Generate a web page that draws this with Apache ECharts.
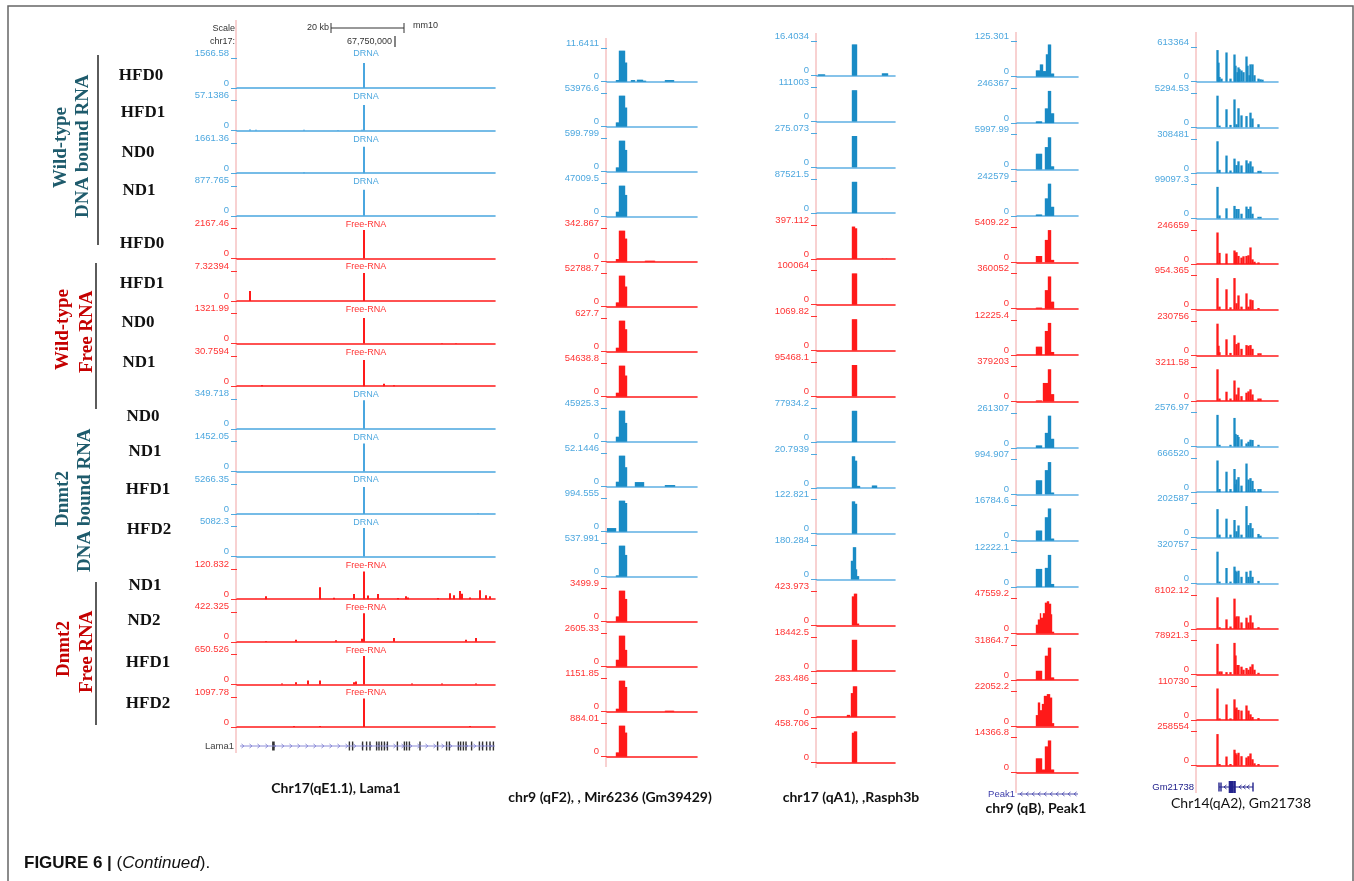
<!DOCTYPE html>
<html><head><meta charset="utf-8">
<script src="https://cdn.jsdelivr.net/npm/echarts@6/dist/echarts.min.js"></script>
<style>html,body{margin:0;padding:0;background:#fff}#c{width:1354px;height:881px}</style>
</head><body><div id="c"></div>
<script>
// ---------------- DATA ----------------
const rowLabels = ['HFD0','HFD1','ND0','ND1','HFD0','HFD1','ND0','ND1','ND0','ND1','HFD1','HFD2','ND1','ND2','HFD1','HFD2'];
const rowType   = ['D','D','D','D','F','F','F','F','D','D','D','D','F','F','F','F']; // D = DRNA, F = Free-RNA
const trackNames = {D:'DRNA', F:'Free-RNA'};
const columnTitles = ['Chr17(qE1.1), Lama1','chr9 (qF2), , Mir6236 (Gm39429)','chr17 (qA1), ,Rasph3b','chr9 (qB), Peak1','Chr14(qA2), Gm21738'];

// view-range maxima (autoscale data range) of each track
const maxLama1   = [1566.58, 57.1386, 1661.36, 877.765, 2167.46, 7.32394, 1321.99, 30.7594, 349.718, 1452.05, 5266.35, 5082.3, 120.832, 422.325, 650.526, 1097.78];
const maxMir6236 = [11.6411, 53976.6, 599.799, 47009.5, 342.867, 52788.7, 627.7, 54638.8, 45925.3, 52.1446, 994.555, 537.991, 3499.9, 2605.33, 1151.85, 884.01];
const maxRasph3b = [16.4034, 111003, 275.073, 87521.5, 397.112, 100064, 1069.82, 95468.1, 77934.2, 20.7939, 122.821, 180.284, 423.973, 18442.5, 283.486, 458.706];
const maxPeak1   = [125.301, 246367, 5997.99, 242579, 5409.22, 360052, 12225.4, 379203, 261307, 994.907, 16784.6, 12222.1, 47559.2, 31864.7, 22052.2, 14366.8];
const maxGm21738 = [613364, 5294.53, 308481, 99097.3, 246659, 954.365, 230756, 3211.58, 2576.97, 666520, 202587, 320757, 8102.12, 78921.3, 110730, 258554];

// signal, in percent of each track's max. [bin, pct] = one bin, [startBin, endBin, pct] = run of bins
const sigLama1 = [
 [[63,83]],
 [[6,4],[9,3],[33,3],[50,2],[62,3],[63,85]],
 [[33,2],[63,88]],
 [[63,87]],
 [[63,95]],
 [[6,33],[63,93]],
 [[63,85],[102,2],[109,2]],
 [[12,4],[63,87],[73,8],[78,3]],
 [[63,95]],
 [[63,93]],
 [[63,90],[120,2]],
 [[63,95]],
 [[14,10],[41,40],[48,5],[58,17],[63,92],[65,12],[70,17],[80,4],[84,10],[85,6],[100,4],[106,20],[108,13],[111,27],[112,18],[116,6],[121,30],[124,13],[126,10]],
 [[14,3],[29,7],[49,5],[62,10],[63,95],[78,13],[114,7],[119,13]],
 [[22,3],[29,7],[35,13],[41,13],[58,7],[59,10],[63,95],[87,3],[102,3],[119,3]],
 [[28,3],[41,3],[63,95],[116,3]]
];
const sigMir6236 = [
 [[9,11,5],[12,17,94],[18,19,58],[24,27,5],[30,35,6],[36,38,3],[58,66,5]],
 [[9,11,13],[12,17,94],[18,19,58]],
 [[9,11,13],[12,17,94],[18,19,66]],
 [[9,11,15],[12,17,94],[18,19,66]],
 [[9,11,8],[12,17,94],[18,19,70],[38,47,3]],
 [[9,11,13],[12,17,94],[18,19,61]],
 [[9,11,12],[12,17,94],[18,19,68]],
 [[9,11,12],[12,17,94],[18,19,64]],
 [[9,11,15],[12,17,94],[18,19,57]],
 [[9,11,15],[12,17,94],[18,19,59],[28,36,14],[58,67,5]],
 [[0,8,11],[12,17,94],[18,19,87]],
 [[9,11,4],[12,17,94],[18,19,66]],
 [[9,11,16],[12,17,94],[18,19,69]],
 [[9,11,21],[12,17,94],[18,19,51]],
 [[9,11,9],[12,17,94],[18,19,75],[58,66,3]],
 [[9,11,13],[12,17,94],[18,19,73]]
];
const sigRasph3b = [
 [[1,7,4],[35,39,92],[65,70,7]],
 [[35,39,92]],
 [[35,39,92]],
 [[35,39,92]],
 [[35,37,95],[38,39,90],[65,1],[69,1]],
 [[35,39,92]],
 [[35,39,92]],
 [[35,39,92]],
 [[35,39,92]],
 [[35,37,93],[38,39,80],[40,42,6],[55,59,7]],
 [[35,37,95],[38,39,88]],
 [[34,35,55],[36,38,95],[39,30],[40,41,10]],
 [[35,36,85],[37,39,93],[40,41,5]],
 [[35,39,92]],
 [[30,32,6],[34,35,70],[36,39,90]],
 [[35,36,88],[37,39,92]]
];
const sigPeak1 = [
 [[19,22,18],[23,25,35],[26,28,16],[29,30,64],[31,33,92],[34,36,9]],
 [[19,24,5],[28,30,42],[31,33,92],[34,36,28]],
 [[19,24,45],[28,30,64],[31,33,92],[34,36,9]],
 [[19,24,4],[28,30,50],[31,33,92],[34,36,26]],
 [[19,24,18],[28,30,64],[31,33,92],[34,36,7]],
 [[19,24,3],[28,30,53],[31,33,92],[34,36,20]],
 [[19,24,24],[28,30,69],[31,33,92],[34,36,9]],
 [[19,24,3],[26,30,53],[31,33,92],[34,36,21]],
 [[19,24,7],[28,30,43],[31,33,92],[34,36,26]],
 [[19,24,40],[28,30,69],[31,33,92],[34,36,5]],
 [[19,24,29],[28,30,67],[31,33,92],[34,36,6]],
 [[19,24,52],[28,30,55],[31,33,92],[34,36,9]],
 [[19,20,25],[21,22,40],[23,58],[24,25,45],[26,27,58],[28,29,88],[30,31,92],[32,33,85],[34,55],[35,36,5]],
 [[19,24,26],[28,30,69],[31,33,92],[34,36,7]],
 [[19,20,32],[21,22,68],[23,24,46],[25,26,64],[27,29,87],[30,32,92],[33,34,82],[35,36,9]],
 [[19,24,41],[25,27,9],[28,30,75],[31,33,92],[34,36,9]]
];
const sigGm21738 = [
 [[20,93],[21,56],[22,14],[24,9],[29,86],[33,9],[37,80],[38,47],[40,28],[41,42],[42,37],[44,33],[46,28],[49,74],[50,47],[52,19],[53,51],[55,51],[57,19],[61,9],[63,7],[65,6]],
 [[20,93],[22,5],[29,53],[33,7],[37,82],[39,9],[41,56],[44,35],[49,33],[53,43],[55,26],[61,9]],
 [[20,93],[22,9],[29,51],[33,7],[37,42],[39,23],[41,34],[44,22],[49,37],[51,28],[53,34],[55,19],[61,6],[63,6]],
 [[20,93],[22,9],[29,30],[37,37],[39,28],[41,28],[44,14],[49,35],[51,28],[53,35],[55,14],[61,5],[63,5]],
 [[20,93],[22,33],[29,31],[37,40],[38,33],[39,35],[41,24],[44,19],[46,23],[49,24],[51,26],[53,49],[55,14],[57,7],[61,5]],
 [[20,93],[22,9],[29,60],[33,7],[37,93],[39,19],[41,42],[44,9],[49,48],[51,9],[53,30],[55,28],[61,5]],
 [[20,93],[21,28],[22,9],[29,47],[33,7],[37,59],[39,33],[41,37],[44,19],[49,30],[51,28],[53,30],[55,19],[61,6],[63,6]],
 [[20,93],[22,7],[29,27],[33,7],[37,60],[39,19],[41,39],[44,14],[49,24],[51,28],[53,34],[55,19],[61,7],[63,7]],
 [[20,93],[22,5],[33,5],[37,84],[38,37],[40,34],[41,28],[44,21],[49,9],[51,14],[53,20],[55,19],[61,5]],
 [[20,93],[22,9],[29,60],[33,9],[37,68],[38,23],[39,37],[41,44],[44,19],[49,84],[51,37],[53,41],[55,33],[57,9],[61,9],[63,9]],
 [[20,84],[22,9],[29,56],[33,9],[37,52],[39,19],[41,36],[44,9],[49,93],[51,37],[53,43],[55,28],[61,11],[63,6]],
 [[20,93],[22,5],[29,45],[33,5],[37,49],[38,37],[39,33],[41,37],[44,19],[49,34],[51,19],[53,37],[55,19],[61,7]],
 [[20,93],[22,5],[29,28],[33,7],[37,89],[38,33],[39,37],[41,37],[44,19],[49,33],[51,19],[53,40],[55,19],[61,5]],
 [[20,90],[22,9],[24,9],[29,7],[33,7],[37,93],[38,56],[40,28],[41,28],[44,23],[46,14],[49,19],[51,14],[53,23],[55,30],[57,14],[61,5]],
 [[20,93],[22,5],[29,46],[33,5],[37,61],[38,33],[39,37],[41,30],[44,28],[49,43],[51,28],[53,17],[55,9],[61,6]],
 [[20,93],[22,5],[29,27],[33,5],[37,47],[38,37],[39,33],[41,38],[44,28],[49,24],[51,28],[53,36],[55,19],[57,7],[61,5]]
];

// gene models (positions in the column's bin units); kind 1 = thin exon, 2 = thick/coding exon
const lama1Exons = [[18.2,2],[56.2,1],[57.8,1],[62.8,1],[64.8,1],[66.5,1],[69.8,1],[71,1],[72.3,1],[73.7,1],[75.2,1],[80.2,1],[83.7,1],[84.8,1],[86.2,1],[91.5,1],[100.3,1],[104.8,1],[106.2,1],[110.7,1],[111.8,1],[113.2,1],[114.5,1],[117.3,1],[121.2,1],[122.8,1],[124.8,1],[126.5,1],[128.2,1]];
const lama1Span = [1.5, 129];
const peak1Span = [0.5, 61];
const gm21738Exons = [[22,1],[24,1],[33,2],[35,2],[37.5,2],[56,1]];
const gm21738Span = [22, 56];

// ---------------- LAYOUT ----------------
const COLS = [
 {max:maxLama1,   sig:sigLama1,   nBins:129, x0:237,  x1:495,  base0:88,   pitch:42.6, H:30, barW:2,   blue:'#4aa6df', blueAxis:'#4aa6df'},
 {max:maxMir6236, sig:sigMir6236, nBins:90,  x0:607,  x1:697,  base0:81.7, pitch:45,   H:33, barW:1.4, blue:'#1a8bc5', blueAxis:'#5fb0e3'},
 {max:maxRasph3b, sig:sigRasph3b, nBins:78,  x0:817,  x1:895,  base0:75.7, pitch:45.8, H:34, barW:1.4, blue:'#1a8bc5', blueAxis:'#5fb0e3'},
 {max:maxPeak1,   sig:sigPeak1,   nBins:61,  x0:1017, x1:1078, base0:76.7, pitch:46.4, H:35, barW:1.4, blue:'#1a8bc5', blueAxis:'#5fb0e3'},
 {max:maxGm21738, sig:sigGm21738, nBins:81,  x0:1197, x1:1278, base0:81.7, pitch:45.6, H:34, barW:2.3, blue:'#1a8bc5', blueAxis:'#5fb0e3'}
];
const RED = '#ff1a1a', RED_LBL = '#ff3333', BLUE_LBL = '#4ea8df';
const pinkTop = [20, 38, 33, 32, 32], pinkBot = [753, 767, 768, 793, 793];
const titlePos = [[336,788,'bold'],[610,797,'bold'],[851,797,'bold'],[1036,808,'bold'],[1241,803,'normal']];
const rowLabelPos = [[141,76],[143,113],[138,153],[139,191],[142,244],[142,284],[138,323],[139,363],[143,417],[145,452],[148,490],[149,530],[145,586],[144,621],[148,663],[148,704]];

function buildTrack(runs, nBins, max) {
  const arr = new Array(nBins).fill(0);
  runs.forEach(r => {
    const s = r[0], e = r.length === 2 ? r[0] : r[1], p = r[r.length - 1];
    for (let b = s; b <= e; b++) arr[b] = +(p / 100 * max).toPrecision(6);
  });
  return arr;
}

const grid = [], xAxis = [], yAxis = [], series = [], graphic = [];
let gi = 0;
COLS.forEach((col, c) => {
  const cats = Array.from({length: col.nBins}, (_, i) => i);
  for (let r = 0; r < 16; r++) {
    const base = col.base0 + r * col.pitch;
    const isD = rowType[r] === 'D';
    const M = col.max[r];
    const fill = isD ? col.blue : RED;
    const axisC = isD ? col.blueAxis : RED;
    const lblC = isD ? BLUE_LBL : RED_LBL;
    grid.push({left: col.x0, top: base - col.H, width: col.x1 - col.x0, height: col.H, outerBoundsMode: 'none'});
    xAxis.push({gridIndex: gi, type: 'category', data: cats, boundaryGap: true,
      axisLine: {show: true, lineStyle: {color: axisC, width: 1.6}}, axisTick: {show: false}, axisLabel: {show: false}, splitLine: {show: false}});
    yAxis.push({gridIndex: gi, type: 'value', min: 0, max: M, interval: M,
      splitLine: {show: false}, axisLine: {show: false},
      axisTick: {show: true, length: 6, lineStyle: {color: lblC, width: 1}},
      axisLabel: {show: true, color: lblC, fontSize: 9.5, fontFamily: 'Liberation Sans', margin: 8,
        verticalAlign: 'bottom', lineHeight: 10, showMinLabel: true, showMaxLabel: true,
        formatter: v => (v < M / 2 ? '0' : String(M))}});
    series.push({type: 'bar', xAxisIndex: gi, yAxisIndex: gi, data: buildTrack(col.sig[r], col.nBins, M),
      barWidth: col.barW, barGap: '0%', itemStyle: {color: fill}, silent: true, animation: false});
    if (c === 0) {
      graphic.push({type: 'text', x: 366, y: base - col.H - 4, silent: true,
        style: {text: trackNames[rowType[r]], fill: isD ? BLUE_LBL : RED_LBL, font: '9px "Liberation Sans"', textAlign: 'center', textVerticalAlign: 'middle'}});
    }
    gi++;
  }
  graphic.push({type: 'line', silent: true, shape: {x1: col.x0 - 1, y1: pinkTop[c], x2: col.x0 - 1, y2: pinkBot[c]}, style: {stroke: '#f6c2c2', lineWidth: 1.5}});
  graphic.push({type: 'text', x: titlePos[c][0], y: titlePos[c][1], silent: true,
    style: {text: columnTitles[c], fill: '#111', font: titlePos[c][2] + ' 14px Lato', textAlign: 'center', textVerticalAlign: 'middle'}});
});

// gene track grids
function geneGrid(col, top, span, exons, lineColor, exonColor, thinH, thickH) {
  grid.push({left: col.x0, top: top, width: col.x1 - col.x0, height: 10, outerBoundsMode: 'none'});
  xAxis.push({gridIndex: gi, type: 'value', min: 0, max: col.nBins, show: false});
  yAxis.push({gridIndex: gi, type: 'value', min: 0, max: 1, show: false});
  series.push({type: 'line', xAxisIndex: gi, yAxisIndex: gi, data: [[span[0], 0.5], [span[1], 0.5]], showSymbol: false,
    lineStyle: {color: lineColor, width: 1}, silent: true, animation: false});
  if (exons.length) {
    series.push({type: 'scatter', xAxisIndex: gi, yAxisIndex: gi, data: exons.map(e => [e[0], 0.5, e[1]]),
      symbol: 'rect', symbolSize: d => d[2] === 2 ? [2.6, thickH] : [1.4, thinH],
      itemStyle: {color: exonColor, opacity: 1}, silent: true, animation: false});
  }
  gi++;
}
geneGrid(COLS[0], 741, lama1Span, lama1Exons, '#8c8cd8', '#333', 9, 9);
geneGrid(COLS[3], 789, peak1Span, [], '#5050b0', '#5050b0', 9, 9);
geneGrid(COLS[4], 782, gm21738Span, gm21738Exons, '#22228c', '#22228c', 9, 12);

// strand chevrons (decoration along introns)
function chevrons(xStart, xEnd, step, y, dir, color) {
  for (let x = xStart; x <= xEnd; x += step) {
    graphic.push({type: 'polyline', silent: true,
      shape: {points: dir > 0 ? [[x - 1.5, y - 2], [x + 1, y], [x - 1.5, y + 2]] : [[x + 1.5, y - 2], [x - 1, y], [x + 1.5, y + 2]]},
      style: {stroke: color, lineWidth: 0.9, fill: null}});
  }
}
chevrons(243, 492, 8, 746, 1, '#8080d4');
chevrons(1021, 1076, 6, 794, -1, '#5050b0');
chevrons(1225, 1226, 6, 787, -1, '#22228c');
chevrons(1240, 1251, 4, 787, -1, '#22228c');

// gene labels
graphic.push({type: 'text', x: 234, y: 746, silent: true, style: {text: 'Lama1', fill: '#444', font: '9.5px "Liberation Sans"', textAlign: 'right', textVerticalAlign: 'middle'}});
graphic.push({type: 'text', x: 1015, y: 794, silent: true, style: {text: 'Peak1', fill: '#3c3caa', font: '9.5px "Liberation Sans"', textAlign: 'right', textVerticalAlign: 'middle'}});
graphic.push({type: 'text', x: 1194, y: 787, silent: true, style: {text: 'Gm21738', fill: '#22228c', font: '9.5px "Liberation Sans"', textAlign: 'right', textVerticalAlign: 'middle'}});

// browser header of first column
const hdrFont = '9px "Liberation Sans"';
graphic.push({type: 'text', x: 235, y: 29, silent: true, style: {text: 'Scale', fill: '#333', font: hdrFont, textAlign: 'right', textVerticalAlign: 'middle'}});
graphic.push({type: 'text', x: 235, y: 42, silent: true, style: {text: 'chr17:', fill: '#333', font: hdrFont, textAlign: 'right', textVerticalAlign: 'middle'}});
graphic.push({type: 'text', x: 329, y: 28, silent: true, style: {text: '20 kb', fill: '#333', font: hdrFont, textAlign: 'right', textVerticalAlign: 'middle'}});
graphic.push({type: 'text', x: 413, y: 26, silent: true, style: {text: 'mm10', fill: '#333', font: hdrFont, textAlign: 'left', textVerticalAlign: 'middle'}});
graphic.push({type: 'text', x: 392, y: 42, silent: true, style: {text: '67,750,000', fill: '#333', font: hdrFont, textAlign: 'right', textVerticalAlign: 'middle'}});
graphic.push({type: 'polyline', silent: true, shape: {points: [[331, 23], [331, 33]]}, style: {stroke: '#333', lineWidth: 1}});
graphic.push({type: 'polyline', silent: true, shape: {points: [[331, 28], [404, 28]]}, style: {stroke: '#333', lineWidth: 1}});
graphic.push({type: 'polyline', silent: true, shape: {points: [[404, 23], [404, 33]]}, style: {stroke: '#333', lineWidth: 1}});
graphic.push({type: 'polyline', silent: true, shape: {points: [[395, 36], [395, 47]]}, style: {stroke: '#333', lineWidth: 1.2}});

// left labels
rowLabels.forEach((t, i) => {
  graphic.push({type: 'text', x: rowLabelPos[i][0], y: rowLabelPos[i][1], silent: true,
    style: {text: t, fill: '#111', font: 'bold 17px "Liberation Serif"', textAlign: 'center', textVerticalAlign: 'middle'}});
});
const TEAL = '#1e5b6c', DRED = '#c40000';
const groupLabels = [
  ['Wild-type', 61, 188, TEAL], ['DNA bound RNA', 83, 218, TEAL],
  ['Wild-type', 63, 370, DRED], ['Free RNA', 87, 373, DRED],
  ['Dnmt2', 63, 527, TEAL], ['DNA bound RNA', 85, 572, TEAL],
  ['Dnmt2', 64, 677, DRED], ['Free RNA', 87, 693, DRED]
];
groupLabels.forEach(g => {
  graphic.push({type: 'text', x: g[1], y: g[2], rotation: Math.PI / 2, silent: true,
    style: {text: g[0], fill: g[3], font: 'bold 19px "Liberation Serif"', textAlign: 'left', textVerticalAlign: 'middle'}});
});
[[98, 55, 245], [96, 263, 409], [96, 582, 725]].forEach(l => {
  graphic.push({type: 'line', silent: true, shape: {x1: l[0], y1: l[1], x2: l[0], y2: l[2]}, style: {stroke: '#333', lineWidth: 1.6}});
});

// frame and caption
graphic.push({type: 'rect', silent: true, shape: {x: 8, y: 6, width: 1345, height: 900}, style: {stroke: '#666', lineWidth: 1.5, fill: null}});
graphic.push({type: 'text', x: 24, y: 863, silent: true,
  style: {text: '{b|FIGURE 6 | }{n|(}{i|Continued}{n|).}', textVerticalAlign: 'middle', textAlign: 'left',
    rich: {b: {font: 'bold 17px "Liberation Sans"', fill: '#111'}, n: {font: '17px "Liberation Sans"', fill: '#111'}, i: {font: 'italic 17px "Liberation Sans"', fill: '#111'}}}});

const chart = echarts.init(document.getElementById('c'), null, {renderer: 'canvas'});
chart.setOption({animation: false, grid, xAxis, yAxis, series, graphic});
</script></body></html>
